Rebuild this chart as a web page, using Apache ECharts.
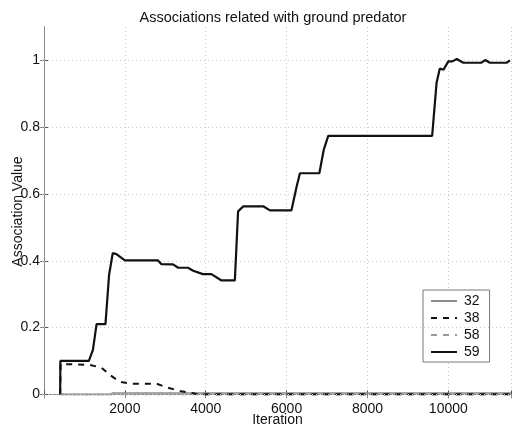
<!DOCTYPE html>
<html>
<head>
<meta charset="utf-8">
<script src="https://cdn.jsdelivr.net/npm/echarts@6/dist/echarts.min.js"></script>
<style>
  html, body { margin: 0; padding: 0; background: #fff; }
  #chart { width: 512px; height: 425px; }
</style>
</head>
<body>
<div id="chart"></div>
<script>
// Association values over training iterations for four units
const seriesNames = ['32', '38', '58', '59'];

const iter32 = [400, 1650, 1700, 11550];
const val32  = [0, 0, 0.004, 0.004];

const iter38 = [400, 410, 1130, 1420, 1630, 1870, 2120, 2780, 3030, 3360, 3690, 3800, 11550];
const val38  = [0, 0.091, 0.088, 0.08, 0.058, 0.038, 0.032, 0.032, 0.021, 0.01, 0.003, 0, 0];

const iter58 = [400, 11550];
const val58  = [0, 0];

const iter59 = [400, 405, 1110, 1210, 1300, 1520, 1610, 1700, 1790, 2000, 2820, 2900, 3190, 3320,
                3560, 3690, 3930, 4140, 4390, 4720, 4800, 4930, 5420, 5590, 6120, 6250, 6330, 6810,
                6920, 7030, 9600, 9710, 9790, 9880, 10000, 10100, 10210, 10370, 10820, 10910, 11030,
                11440, 11525];
const val59  = [0, 0.1, 0.1, 0.133, 0.21, 0.21, 0.358, 0.423, 0.42, 0.401, 0.401, 0.39, 0.389, 0.379,
                0.379, 0.37, 0.36, 0.36, 0.341, 0.341, 0.548, 0.563, 0.563, 0.551, 0.551, 0.623, 0.662, 0.662,
                0.733, 0.774, 0.774, 0.934, 0.976, 0.972, 0.997, 0.997, 1.004, 0.993, 0.993, 1.001, 0.993,
                0.993, 1.0];

const xTicks = [0, 2000, 4000, 6000, 8000, 10000];
const yTicks = [0, 0.2, 0.4, 0.6, 0.8, 1];

const zip = (xs, ys) => xs.map((x, i) => [x, ys[i]]);

const FONT = 'Liberation Sans';
const TXT = '#111';
const gridLine = { show: true, lineStyle: { color: '#c8c8c8', type: [1, 3], width: 1 } };

const chart = echarts.init(document.getElementById('chart'), null, { renderer: 'canvas' });

chart.setOption({
  animation: false,
  backgroundColor: '#ffffff',
  textStyle: { fontFamily: FONT },
  title: {
    text: 'Associations related with ground predator',
    left: 268, top: 5, textAlign: 'center',
    textStyle: { fontFamily: FONT, fontSize: 14.5, fontWeight: 'normal', color: TXT }
  },
  grid: { left: 44, right: 1, top: 27, bottom: 29, containLabel: false, outerBoundsMode: 'none' },
  legend: {
    data: seriesNames,
    orient: 'vertical',
    left: 423, top: 290,
    itemWidth: 26, itemHeight: 12, itemGap: 3,
    padding: [4, 10, 3, 7],
    borderColor: '#777', borderWidth: 1,
    backgroundColor: '#fff',
    itemStyle: { opacity: 0 },
    textStyle: { fontFamily: FONT, fontSize: 14, color: TXT, padding: [0, 0, 0, 2] }
  },
  xAxis: [{
    type: 'value', min: 0, max: 11550, interval: 2000,
    name: 'Iteration', nameLocation: 'middle', nameGap: 17, nameMoveOverlap: false,
    nameTextStyle: { fontFamily: FONT, fontSize: 14, color: TXT },
    axisLine: { show: true, lineStyle: { color: '#555', width: 1 } },
    axisTick: { show: true, inside: true, length: 4, lineStyle: { color: '#555' } },
    axisLabel: {
      fontFamily: FONT, fontSize: 14, color: TXT, margin: 6,
      formatter: v => (xTicks.includes(v) && v !== 0) ? String(v) : ''
    },
    splitLine: gridLine
  }, {
    type: 'value', position: 'top', min: 0, max: 11550, interval: 2000,
    axisLine: { show: true, lineStyle: { color: '#888', width: 1 } },
    axisTick: { show: true, inside: true, length: 4, lineStyle: { color: '#888' } },
    axisLabel: { show: false }, splitLine: { show: false }
  }],
  yAxis: [{
    type: 'value', min: -0.005, max: 1.1,
    name: 'Association Value', nameLocation: 'middle', nameGap: 19, nameRotate: 90, nameMoveOverlap: false,
    nameTextStyle: { fontFamily: FONT, fontSize: 14, color: TXT },
    axisLine: { show: true, lineStyle: { color: '#555', width: 1 } },
    axisTick: { show: true, inside: true, length: 4, lineStyle: { color: '#555' },
      customValues: yTicks },
    axisLabel: {
      fontFamily: FONT, fontSize: 14, color: TXT, margin: 4,
      customValues: yTicks,
      formatter: v => String(Math.round(v * 10) / 10)
    },
    splitLine: { show: false }
  }, {
    type: 'value', position: 'right', min: -0.005, max: 1.1,
    axisLine: { show: true, lineStyle: { color: '#888', width: 1 } },
    axisTick: { show: true, inside: true, length: 4, lineStyle: { color: '#888' }, customValues: yTicks },
    axisLabel: { show: false }, splitLine: { show: false }
  }],
  series: [
    {
      // horizontal dotted grid lines at each y tick
      type: 'line', silent: true, data: [], xAxisIndex: 0, yAxisIndex: 0,
      markLine: {
        silent: true, symbol: 'none', label: { show: false },
        lineStyle: { color: '#c8c8c8', type: [1, 3], width: 1 },
        data: yTicks.map(v => ({ yAxis: v }))
      }
    },
    {
      name: '32', type: 'line', data: zip(iter32, val32), showSymbol: false, symbol: 'none',
      lineStyle: { color: '#8c8c8c', width: 1.6 }, itemStyle: { color: '#8c8c8c' }, z: 3
    },
    {
      name: '38', type: 'line', data: zip(iter38, val38), showSymbol: false, symbol: 'none',
      lineStyle: { color: '#111', width: 2, type: [6, 6] }, itemStyle: { color: '#111' }, z: 4
    },
    {
      name: '58', type: 'line', data: zip(iter58, val58), showSymbol: false, symbol: 'none',
      lineStyle: { color: '#9a9a9a', width: 1.6, type: [6, 6] }, itemStyle: { color: '#9a9a9a' }, z: 3
    },
    {
      name: '59', type: 'line', data: zip(iter59, val59), showSymbol: false, symbol: 'none',
      lineStyle: { color: '#111', width: 2.2 }, itemStyle: { color: '#111' }, z: 5
    }
  ]
});
</script>
</body>
</html>
